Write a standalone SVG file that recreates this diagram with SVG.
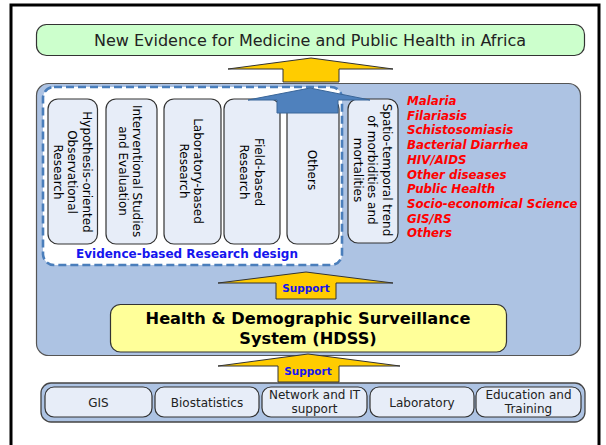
<svg xmlns="http://www.w3.org/2000/svg" width="606" height="445" viewBox="0 0 606 445">
  <style>
    text { font-family: "DejaVu Sans", Verdana, sans-serif; fill: #000; }
    .title { font-size: 16px; text-anchor: middle; fill: #222; }
    .col { fill: #e7edf8; stroke: #333; stroke-width: 1.2; }
    .coltxt { font-size: 12px; text-anchor: middle; }
    .design { font-size: 12px; font-weight: bold; fill: #1515ee; text-anchor: middle; }
    .arrow { fill: #ffcc00; stroke: #333; stroke-width: 1; stroke-linejoin: miter; }
    .support { font-size: 10.5px; font-weight: bold; fill: #1515ee; text-anchor: middle; }
    .red { font-size: 11.8px; font-weight: bold; font-style: italic; fill: #ff0000; }
    .hdss { font-size: 16.2px; font-weight: bold; text-anchor: middle; }
    .unit { fill: #e7edf8; stroke: #333; stroke-width: 1.2; }
    .unittxt { font-size: 12px; text-anchor: middle; fill: #222; }
  </style>

  <!-- page background and frame -->
  <rect x="0" y="0" width="606" height="445" fill="#ffffff"/>
  <rect x="11" y="5" width="588" height="470" fill="none" stroke="#000" stroke-width="3"/>

  <!-- top goal -->
  <g id="goal">
    <rect x="36.5" y="24.5" width="548" height="31" rx="10" fill="#ccffcc" stroke="#333" stroke-width="1.2"/>
    <text class="title" x="310" y="45.5">New Evidence for Medicine and Public Health in Africa</text>
  </g>

  <!-- main panel -->
  <g id="panel">
    <rect x="36.5" y="83.5" width="544" height="272" rx="12" fill="#adc3e3" stroke="#555" stroke-width="1.2"/>
  </g>

  <!-- research design area -->
  <g id="research-design">
    <rect x="43" y="87" width="299" height="178" rx="11" fill="#ffffff" stroke="#4a7ebb" stroke-width="2.6" stroke-dasharray="8 4"/>
    <text class="design" x="187" y="258">Evidence-based Research design</text>
  </g>

  <g id="hypothesis">
    <rect class="col" x="48" y="99" width="49.5" height="145" rx="10"/>
    <text class="coltxt" transform="translate(82.7,172) rotate(90)">Hypothesis-oriented</text>
    <text class="coltxt" transform="translate(68.2,172) rotate(90)">Observational</text>
    <text class="coltxt" transform="translate(53.7,172) rotate(90)">Research</text>
  </g>

  <g id="interventional">
    <rect class="col" x="106" y="99" width="51" height="145" rx="10"/>
    <text class="coltxt" transform="translate(133.2,171) rotate(90)">Interventional Studies</text>
    <text class="coltxt" transform="translate(118.7,171) rotate(90)">and Evaluation</text>
  </g>

  <g id="laboratory-research">
    <rect class="col" x="164" y="99" width="57" height="145" rx="10"/>
    <text class="coltxt" transform="translate(193.7,171) rotate(90)">Laboratory-based</text>
    <text class="coltxt" transform="translate(179.7,171) rotate(90)">Research</text>
  </g>

  <g id="field-research">
    <rect class="col" x="224" y="99" width="56" height="145" rx="10"/>
    <text class="coltxt" transform="translate(254.7,172) rotate(90)">Field-based</text>
    <text class="coltxt" transform="translate(240.2,172) rotate(90)">Research</text>
  </g>

  <g id="others-research">
    <rect class="col" x="287" y="99" width="52" height="145" rx="10"/>
    <text class="coltxt" transform="translate(308,170) rotate(90)">Others</text>
  </g>

  <g id="spatio-temporal">
    <rect class="col" x="348" y="99" width="50" height="144" rx="10"/>
    <text class="coltxt" transform="translate(382.7,170) rotate(90)">Spatio-temporal trend</text>
    <text class="coltxt" transform="translate(368,170) rotate(90)">of morbidities and</text>
    <text class="coltxt" transform="translate(353.5,170) rotate(90)">mortalities</text>
  </g>

  <!-- research topics -->
  <g id="topics">
    <text class="red" x="407" y="105">Malaria</text>
    <text class="red" x="407" y="119.7">Filariasis</text>
    <text class="red" x="407" y="134.4">Schistosomiasis</text>
    <text class="red" x="407" y="149.1">Bacterial Diarrhea</text>
    <text class="red" x="407" y="163.8">HIV/AIDS</text>
    <text class="red" x="407" y="178.5">Other diseases</text>
    <text class="red" x="407" y="193.2">Public Health</text>
    <text class="red" x="407" y="207.9">Socio-economical Science</text>
    <text class="red" x="407" y="222.6">GIS/RS</text>
    <text class="red" x="407" y="237.3">Others</text>
  </g>

  <!-- HDSS -->
  <g id="hdss">
    <rect x="110.5" y="304.5" width="396" height="47.5" rx="10" fill="#ffff99" stroke="#333" stroke-width="1.2"/>
    <text class="hdss" x="308" y="323.5">Health &amp; Demographic Surveillance</text>
    <text class="hdss" x="308" y="344">System (HDSS)</text>
  </g>

  <!-- support units -->
  <g id="units">
    <rect x="41" y="383" width="544" height="39" rx="10" fill="#adc3e3" stroke="#444" stroke-width="1.3"/>
  </g>
  <g id="gis">
    <rect class="unit" x="45" y="387" width="107" height="30" rx="9"/>
    <text class="unittxt" x="98.5" y="406.5">GIS</text>
  </g>
  <g id="biostatistics">
    <rect class="unit" x="155" y="387" width="104" height="30" rx="9"/>
    <text class="unittxt" x="207" y="406.5">Biostatistics</text>
  </g>
  <g id="network">
    <rect class="unit" x="262" y="387" width="105" height="30" rx="9"/>
    <text class="unittxt" x="314.5" y="398.5">Network and IT</text>
    <text class="unittxt" x="314.5" y="412.5">support</text>
  </g>
  <g id="laboratory">
    <rect class="unit" x="370" y="387" width="104" height="30" rx="9"/>
    <text class="unittxt" x="422" y="406.5">Laboratory</text>
  </g>
  <g id="education">
    <rect class="unit" x="476" y="387" width="105" height="30" rx="9"/>
    <text class="unittxt" x="528.5" y="398.5">Education and</text>
    <text class="unittxt" x="528.5" y="412.5">Training</text>
  </g>

  <!-- connectors -->
  <g id="connectors">
    <polygon class="arrow" points="311,58 393,69 339,69 339,82 283,82 283,69 228,69"/>
    <polygon points="310,88 370,100 338,100 338,113 277,113 277,100 248,100" fill="#4f81bd" stroke="#3a6699" stroke-width="1"/>
    <polygon class="arrow" points="306,272 393,283 336,283 336,299 276,299 276,283 218,283"/>
    <text class="support" x="306" y="292">Support</text>
    <polygon class="arrow" points="308,354 400,366 339,366 339,382 278,382 278,366 218,366"/>
    <text class="support" x="308" y="375">Support</text>
  </g>
</svg>
